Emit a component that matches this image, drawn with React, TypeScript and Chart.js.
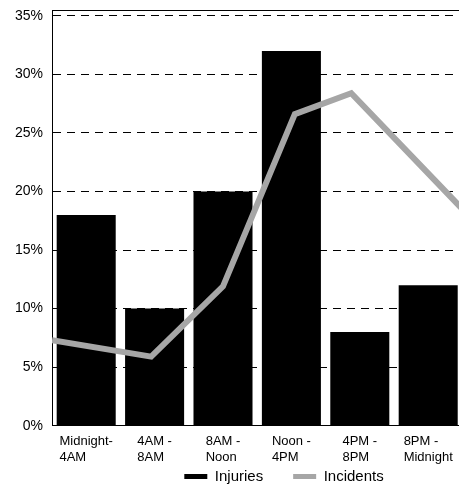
import React, { useEffect, useRef } from 'react';
import { Chart, registerables } from 'chart.js';

Chart.register(...registerables);

const FONT = "'Liberation Sans', Arial, sans-serif";

// Categories (two-line labels)
const categories: string[][] = [
  ['Midnight-', '4AM'],
  ['4AM -', '8AM'],
  ['8AM -', 'Noon'],
  ['Noon -', '4PM'],
  ['4PM -', '8PM'],
  ['8PM -', 'Midnight'],
];
const seriesNames = ['Injuries', 'Incidents'];
const seriesColors = ['#000000', '#a6a6a6'];

// Injuries (%) per category
const injuries = [18, 10, 20, 32, 8, 12];

// Incidents line: hour of day and value (%)
const incidentHours = [0, 5.8, 10, 14.2, 17.5, 24];
const incidents = [7.3, 5.9, 11.9, 26.6, 28.4, 18.5];

// Y axis
const yTicks = [0, 5, 10, 15, 20, 25, 30, 35];
const yMax = 35.5;

const CANVAS_W = 568;
const CANVAS_H = 494;

const frameAndLabels = {
  id: 'frameAndLabels',
  afterDraw(chart: any) {
    const { ctx, chartArea, scales } = chart;
    ctx.save();
    ctx.strokeStyle = '#000';
    ctx.lineWidth = 1;
    ctx.beginPath();
    const ty = Math.round(chartArea.top) + 0.5;
    ctx.moveTo(chartArea.left, ty);
    ctx.lineTo(chartArea.right, ty);
    ctx.stroke();

    ctx.font = `13px ${FONT}`;
    ctx.fillStyle = '#000';
    ctx.textAlign = 'left';
    ctx.textBaseline = 'alphabetic';
    categories.forEach((lines, i) => {
      const cx = scales.x.getPixelForValue(i);
      const w = Math.max(...lines.map((l) => ctx.measureText(l).width));
      lines.forEach((l, j) => {
        ctx.fillText(l, cx - w / 2, chartArea.bottom + 19 + j * 16);
      });
    });
    ctx.restore();
  },
};

export default function App() {
  const ref = useRef<HTMLCanvasElement | null>(null);

  useEffect(() => {
    if (!ref.current) return;
    Chart.defaults.font.family = FONT;
    const chart = new Chart(ref.current, {
      type: 'bar',
      data: {
        labels: categories,
        datasets: [
          {
            type: 'bar',
            label: seriesNames[0],
            data: injuries,
            backgroundColor: seriesColors[0],
            borderColor: seriesColors[0],
            borderWidth: 0,
            grouped: false,
            barPercentage: 0.863,
            categoryPercentage: 1,
            xAxisID: 'x',
            yAxisID: 'y',
            order: 1,
          } as any,
          {
            type: 'line',
            label: seriesNames[1],
            data: incidentHours.map((h, i) => ({ x: h, y: incidents[i] })),
            borderColor: seriesColors[1],
            backgroundColor: seriesColors[1],
            borderWidth: 6,
            pointRadius: 0,
            tension: 0,
            borderJoinStyle: 'miter',
            xAxisID: 'x2',
            yAxisID: 'y',
            order: 0,
          } as any,
        ],
      },
      options: {
        responsive: false,
        animation: false,
        devicePixelRatio: 1,
        layout: { padding: { top: 10, left: 0, right: 0, bottom: 0 } },
        plugins: {
          tooltip: { enabled: false },
          legend: {
            position: 'bottom',
            labels: {
              boxWidth: 23,
              boxHeight: 5,
              padding: 30,
              color: '#000',
              font: { size: 15, family: FONT },
              generateLabels: (c: any) =>
                (Chart.defaults.plugins.legend.labels as any)
                  .generateLabels(c)
                  .map((l: any) => ({
                    ...l,
                    lineWidth: 0,
                    fillStyle: seriesColors[l.datasetIndex],
                    strokeStyle: seriesColors[l.datasetIndex],
                  })),
              sort: (a: any, b: any) => a.datasetIndex - b.datasetIndex,
            },
          },
        },
        scales: {
          x: {
            type: 'category',
            offset: true,
            grid: { display: false },
            ticks: { display: false },
            border: { display: true, color: '#000', width: 1 },
            afterFit: (s: any) => {
              s.height = 13.3;
              s.paddingLeft = 0;
              s.paddingRight = 0;
            },
          },
          x2: {
            type: 'linear',
            min: 0,
            max: 24,
            offset: false,
            display: false,
          },
          y: {
            min: 0,
            max: yMax,
            afterBuildTicks: (s: any) => {
              s.ticks = yTicks.map((v) => ({ value: v }));
            },
            ticks: {
              callback: (v: any) => `${v}%`,
              color: '#000',
              padding: 9,
              font: { size: 14, family: FONT },
            },
            grid: { color: '#000', drawTicks: false, lineWidth: 1 },
            border: { display: true, color: '#000', width: 1, dash: [8, 6] },
            afterFit: (s: any) => {
              s.width = 52;
              s.paddingTop = 0;
              s.paddingBottom = 0;
            },
          },
          yR: {
            position: 'right',
            min: 0,
            max: 1,
            display: true,
            grid: { display: false },
            ticks: { display: false },
            border: { display: false },
            afterFit: (s: any) => {
              s.width = 105.6;
              s.paddingTop = 0;
              s.paddingBottom = 0;
            },
          },
        },
      } as any,
      plugins: [frameAndLabels],
    });
    return () => chart.destroy();
  }, []);

  return (
    <div
      style={{
        position: 'fixed',
        left: 0,
        top: 0,
        width: 459,
        height: 485,
        overflow: 'hidden',
        background: '#fff',
      }}
    >
      <canvas ref={ref} width={CANVAS_W} height={CANVAS_H} style={{ display: 'block' }} />
    </div>
  );
}
